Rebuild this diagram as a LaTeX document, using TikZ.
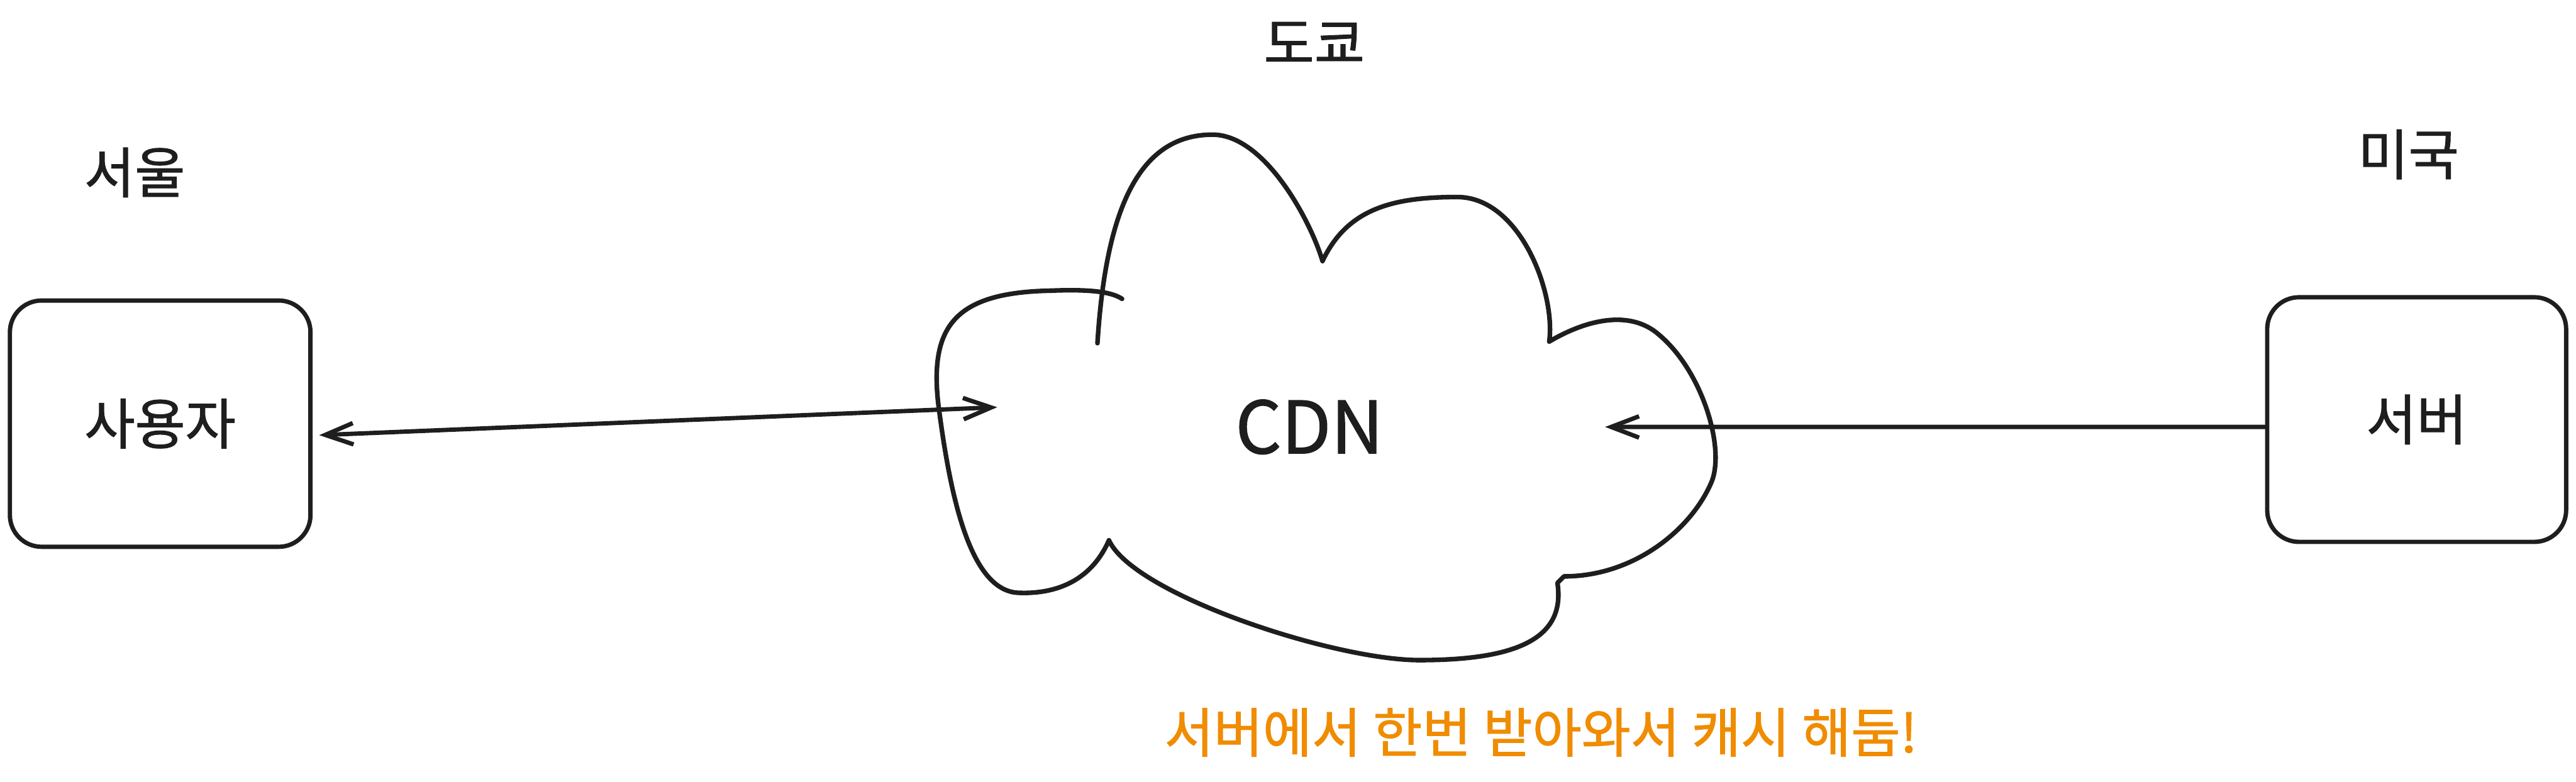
\documentclass[tikz,border=0pt]{standalone}
\usepackage{fontspec}
\setmainfont{Noto Sans CJK KR}[FakeBold=1.2]
\usetikzlibrary{arrows.meta, positioning}
\definecolor{cink}{HTML}{1E1E1E}
\definecolor{corange}{HTML}{F08C00}
\tikzset{
  every picture/.style={line width=1.5pt},
  box/.style={draw=cink, rounded corners=11pt, text=cink, font=\fontsize{19}{23}\selectfont},
  place/.style={text=cink, font=\fontsize{19}{23}\selectfont},
  arrow/.style={-{Straight Barb[length=3.4mm, width=2.6mm]}, draw=cink, line cap=round, line join=round},
  arrowboth/.style={{Straight Barb[length=3.4mm, width=2.6mm]}-{Straight Barb[length=3.4mm, width=2.6mm]}, draw=cink, line cap=round, line join=round},
  cloudline/.style={draw=cink, line width=1.6pt, line cap=round, line join=round},
  note/.style={text=corange, font=\fontsize{18.5}{22}\selectfont},
}

\begin{document}
\begin{tikzpicture}[x=0.02cm, y=-0.02cm]
  \path[fill=white] (0,0) rectangle (1568,476);
  % ---------- 서울
  \node[place] (seoul) at (82,105) {서울};
  \node[box, minimum width=3.66cm, minimum height=3cm] (user) at (97.5,258) {사용자};
  % ---------- 도쿄
  \node[place] (tokyo) at (800,26) {도쿄};
  \node[text=cink, font=\fontsize{25}{30}\selectfont] (cdn) at (797,260) {CDN};
  \draw[cloudline] (668,209) .. controls (673,130) and (692,82) .. (738,82)
    .. controls (770,82) and (798,135) .. (805,159)
    .. controls (820,127) and (848,120) .. (887,120)
    .. controls (925,120) and (947,178) .. (943,208)
    .. controls (965,195) and (992,188) .. (1010,204)
    .. controls (1036,226) and (1050,272) .. (1042,293)
    .. controls (1030,322) and (995,351) .. (952,351)
    -- (948,355)
    .. controls (953,388) and (925,402) .. (864,402)
    .. controls (812,402) and (690,362) .. (675,329)
    .. controls (665,352) and (645,362) .. (620,361)
    .. controls (590,360) and (578,300) .. (571,245)
    .. controls (566,198) and (582,178) .. (640,177)
    .. controls (665,176) and (677,178) .. (683,182);
  \coordinate (cdnL) at (607,248);
  \coordinate (cdnR) at (977,260);
  % ---------- 미국
  \node[place] (usa) at (1466,94) {미국};
  \node[box, minimum width=3.64cm, minimum height=2.98cm] (server) at (1471,255.5) {서버};
  % ---------- connectors
  \draw[arrowboth] ([shift={(4,7)}]user.east) -- (cdnL);
  \draw[arrow] ([shift={(0,4.5)}]server.west) -- (cdnR);
  \node[note] (memo) at (938,446) {서버에서 한번 받아와서 캐시 해둠!};
\end{tikzpicture}
\end{document}
